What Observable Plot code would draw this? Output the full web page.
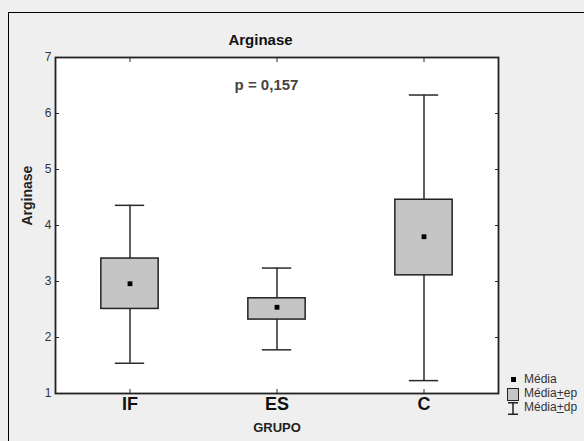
<!DOCTYPE html>
<html><head><meta charset="utf-8">
<script src="https://cdn.jsdelivr.net/npm/d3@7"></script>
<script src="https://cdn.jsdelivr.net/npm/@observablehq/plot@0.6"></script>
<style>
html,body{margin:0;padding:0;background:#efefef;}
#wrap{position:relative;width:584px;height:441px;overflow:hidden;background:#efefef;font-family:"Liberation Sans",Arial,sans-serif;}
#border{position:absolute;left:8px;top:12px;width:700px;height:600px;border-left:1px solid #000;border-top:1px solid #000;}
#chart{position:absolute;left:0;top:0;}
.lg{position:absolute;left:524px;font-size:12px;color:#333;line-height:13px;white-space:nowrap;}
.lg u{text-decoration:underline;}
#sqMean{position:absolute;left:511px;top:377px;width:5px;height:5px;background:#000;}
#sqEp{position:absolute;left:507px;top:388px;width:10px;height:11px;background:#c5c5c5;border:1px solid #222;}
#whk{position:absolute;left:507px;top:402px;width:12px;height:13px;}
</style></head>
<body>
<div id="wrap">
<div id="border"></div>
<div id="chart"></div>
<div id="sqMean"></div>
<div id="sqEp"></div>
<svg id="whk" width="12" height="13"><line x1="1" y1="0.75" x2="11" y2="0.75" stroke="#222" stroke-width="1.5"/><line x1="6" y1="0.75" x2="6" y2="12.25" stroke="#222" stroke-width="1.5"/><line x1="1" y1="12.25" x2="11" y2="12.25" stroke="#222" stroke-width="1.5"/></svg>
<div class="lg" style="top:373px">Média</div>
<div class="lg" style="top:387px">Média<u>+</u>ep</div>
<div class="lg" style="top:401px">Média<u>+</u>dp</div>
</div>
<script>
const groups = ["IF", "ES", "C"];
const means = [2.96, 2.54, 3.80];
const epLow = [2.51, 2.32, 3.11];
const epHigh = [3.41, 2.70, 4.46];
const dpLow = [1.54, 1.78, 1.23];
const dpHigh = [4.36, 3.24, 6.33];
const yTicks = [1, 2, 3, 4, 5, 6, 7];
const title = "Arginase";
const yLabel = "Arginase";
const xLabel = "GRUPO";
const pText = "p = 0,157";

const data = groups.map((g, i) => ({group: g, mean: means[i], epLo: epLow[i], epHi: epHigh[i], dpLo: dpLow[i], dpHi: dpHigh[i]}));

const W = 584, H = 441, mL = 55, mR = 86, mT = 57, mB = 48;
const band = (W - mL - mR) / groups.length;
const boxW = 58, capW = 30;
const font = "Liberation Sans, Arial, sans-serif";
const ink = "#2a2a2a";

const chart = Plot.plot({
  width: W, height: H,
  marginLeft: mL, marginRight: mR, marginTop: mT, marginBottom: mB,
  style: {background: "transparent", fontFamily: font, overflow: "visible"},
  x: {domain: groups, padding: 0, axis: null},
  y: {domain: [1, 7], axis: null},
  marks: [
    Plot.frame({fill: "white", stroke: null}),
    Plot.ruleX(data, {x: "group", y1: "dpLo", y2: "dpHi", stroke: ink, strokeWidth: 1.5}),
    Plot.tickY(data, {x: "group", y: "dpHi", stroke: ink, strokeWidth: 1.5, inset: (band - capW) / 2}),
    Plot.tickY(data, {x: "group", y: "dpLo", stroke: ink, strokeWidth: 1.5, inset: (band - capW) / 2}),
    Plot.barY(data, {x: "group", y1: "epLo", y2: "epHi", fill: "#c5c5c5", stroke: "#222", strokeWidth: 1.5, insetLeft: (band - boxW) / 2, insetRight: (band - boxW) / 2}),
    Plot.dot(data, {x: "group", y: "mean", symbol: "square", r: 2.7, fill: "#000", stroke: null}),
    Plot.axisY({ticks: yTicks, anchor: "left", tickSize: 0, tickPadding: 4, fontSize: 12, fill: "#333", tickFormat: d => d}),
    Plot.axisY({ticks: yTicks, anchor: "left", tickSize: 4, dx: 4, text: null, stroke: ink}),
    Plot.axisY({ticks: yTicks, anchor: "right", tickSize: 4, dx: -4, text: null, stroke: ink}),
    Plot.axisX({anchor: "bottom", tickSize: 0, tickPadding: 4, fontSize: 18, fontWeight: "bold", fill: "#111", label: null}),
    Plot.axisX({anchor: "bottom", tickSize: 4, dy: -4, text: null, stroke: ink, label: null}),
    Plot.axisX({anchor: "top", tickSize: 4, dy: 4, text: null, stroke: ink, label: null}),
    Plot.frame({stroke: "#222", strokeWidth: 1.8}),
    Plot.text([title], {frameAnchor: "top", dy: -23, dx: -16.5, text: d => d, fontSize: 15, fontWeight: "bold", fill: "#111"}),
    Plot.text([pText], {frameAnchor: "top", dy: 22, dx: -10.5, text: d => d, fontSize: 15, fontWeight: "bold", fill: "#444"}),
    Plot.text([yLabel], {frameAnchor: "left", dx: -28, rotate: -90, text: d => d, fontSize: 14, fontWeight: "bold", fill: "#222"}),
    Plot.text([xLabel], {frameAnchor: "bottom", dy: 38, text: d => d, fontSize: 13, fontWeight: "bold", fill: "#222"})
  ]
});
document.getElementById("chart").appendChild(chart);
</script>
</body></html>
